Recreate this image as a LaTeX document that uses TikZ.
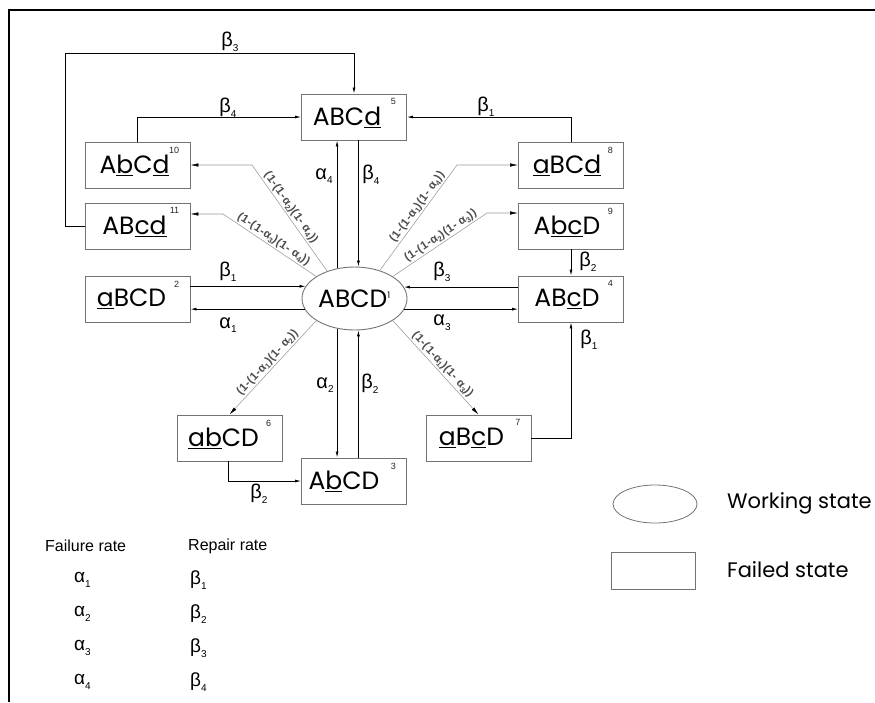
\documentclass[tikz,border=0pt]{standalone}
\usepackage{fontspec}
\setmainfont{Liberation Sans}
\newfontfamily\nodefont{Poppins}
\usetikzlibrary{arrows.meta,calc,shapes.geometric}
\newcommand{\sbs}[1]{\raisebox{-0.45ex}{\fontsize{10}{10}\selectfont #1}}
\newcommand{\psb}[1]{\raisebox{-0.35ex}{\fontsize{7.5}{7.5}\selectfont #1}}
\begin{document}
\begin{tikzpicture}[x=1pt,y=-1pt,
  state/.style={draw=black!55, line width=0.9pt, minimum width=105pt, minimum height=46pt,
    inner sep=0pt, font=\nodefont\fontsize{25}{28}\selectfont, fill=white},
  work/.style={ellipse, draw=black!55, line width=0.9pt, minimum width=105pt, minimum height=63pt,
    inner sep=0pt, font=\nodefont\fontsize{25}{28}\selectfont, fill=white},
  num/.style={font=\fontsize{9}{10}\selectfont, inner sep=0pt, anchor=north east, xshift=-11pt, yshift=-5pt, text=black!85},
  arr/.style={line width=0.8pt, -{Latex[length=6pt,width=3pt]}},
  prob/.style={draw=black!40, line width=0.55pt, -{Latex[length=8pt,width=3.5pt,color=black]}},
  plab/.style={font=\fontsize{11.5}{12}\selectfont\bfseries\addfontfeature{LetterSpace=4}, text=black!70, inner sep=1.5pt, sloped, above},
  glab/.style={font=\fontsize{20}{22}\selectfont, inner sep=0pt},
  tlab/.style={font=\fontsize{16}{18}\selectfont, inner sep=0pt, anchor=west},
  tgr/.style={font=\fontsize{19}{21}\selectfont, inner sep=0pt, anchor=west},
  leg/.style={font=\nodefont\fontsize{21}{24}\selectfont, inner sep=0pt, anchor=west},
]
\useasboundingbox (0,0) rectangle (875,702);
\draw[line width=1.2pt] (875,10) -- (9,10) -- (9,702);

% states
\node[work] (n1) at (354.5,298.5) {ABCD\textsuperscript{\fontsize{9}{9}\selectfont 1}};
\node[state, label={[num]north east:5}] (n5) at (354,117) {ABC\underline{d}\kern14pt};
\node[state, label={[num]north east:10}] (n10) at (137.5,165) {A\underline{b}C\underline{d}\kern6pt};
\node[state, label={[num]north east:11}] (n11) at (137.5,226) {AB\underline{cd}\kern6pt};
\node[state, label={[num]north east:2}] (n2) at (137.5,299) {\underline{a}BCD\kern12pt};
\node[state, label={[num]north east:8}] (n8) at (571,165) {\underline{a}BC\underline{d}\kern8pt};
\node[state, label={[num]north east:9}] (n9) at (571,226) {A\underline{bc}D\kern8pt};
\node[state, label={[num]north east:4}] (n4) at (571,299) {AB\underline{c}D\kern8pt};
\node[state, label={[num]north east:6}] (n6) at (229.5,438) {\underline{ab}CD\kern12pt};
\node[state, label={[num]north east:7}] (n7) at (478.5,438) {\underline{a}B\underline{c}D\kern14pt};
\node[state, label={[num]north east:3}] (n3) at (354,481) {A\underline{b}CD\kern20pt};

% helper coordinates
\coordinate (c3) at (65,53);
\coordinate (k10) at (252,165);
\coordinate (k11) at (223,214);
\coordinate (k8) at (457,165);
\coordinate (k9) at (487,213);
\coordinate (c63) at (228,481);

% repair loops
\draw[arr] (n11.west) -| (c3) -| (n5.north);
\draw[arr] (n10.north) |- (n5.west);
\draw[arr] (n8.north) |- (n5.east);
\draw[arr] (n9.south) -- (n4.north);
\draw[arr] (n7.east) -| (n4.south);
\draw[arr] (n6.south -| c63) |- (n3.west);

% central transitions
\draw[arr] (n2.east |- n1.166.8) -- (n1.166.8);
\draw[arr] (n1.192) -- (n2.east |- n1.192);
\draw[arr] (n4.west |- n1.13.2) -- (n1.13.2);
\draw[arr] (n1.-12) -- (n4.west |- n1.-12);
\draw[arr] (n1.120.5) -- (n5.south -| n1.120.5);
\draw[arr] (n5.south -| n1.83.6) -- (n1.83.6);
\draw[arr] (n1.-120.5) -- (n3.north -| n1.-120.5);
\draw[arr] (n3.north -| n1.-83.6) -- (n1.-83.6);

% simultaneous failures
\draw[prob] (n1.135) -- node[plab,pos=0.56]{(1-(1-α\psb{2})(1- α\psb{4}))} (k10) -- (n10.east);
\draw[prob] (n1.150) -- node[plab,pos=0.5]{(1-(1-α\psb{3})(1- α\psb{4}))} (k11) -- (n11.east |- k11);
\draw[prob] (n1.48) -- node[plab,pos=0.56]{(1-(1-α\psb{1})(1- α\psb{4}))} (k8) -- (n8.west);
\draw[prob] (n1.30) -- node[plab,pos=0.55]{(1-(1-α\psb{2})(1- α\psb{3}))} (k9) -- (n9.west |- k9);
\draw[prob] (n1.210) -- node[plab,pos=0.5]{(1-(1-α\psb{1})(1- α\psb{2}))} (n6.north);
\draw[prob] (n1.-30) -- node[plab,pos=0.52]{(1-(1-α\psb{1})(1- α\psb{3}))} (n7.north);

% rate labels
\node[glab] (lb3) at (230,42) {β\sbs{3}};
\node[glab] (lb4t) at (228,108) {β\sbs{4}};
\node[glab] (lb1t) at (486,107) {β\sbs{1}};
\node[glab] (la4) at (324,176) {α\sbs{4}};
\node[glab] (lb4v) at (371,175) {β\sbs{4}};
\node[glab] (lb1l) at (228,272) {β\sbs{1}};
\node[glab] (la1) at (228,325) {α\sbs{1}};
\node[glab] (lb3r) at (442,272) {β\sbs{3}};
\node[glab] (la3) at (442,323) {α\sbs{3}};
\node[glab] (la2) at (325,385) {α\sbs{2}};
\node[glab] (lb2v) at (370,384) {β\sbs{2}};
\node[glab] (lb2b) at (259,494) {β\sbs{2}};
\node[glab] (lb2r) at (588,262) {β\sbs{2}};
\node[glab] (lb1r) at (589,340) {β\sbs{1}};

% legend
\node[ellipse, draw=black!55, line width=0.8pt, minimum width=84pt, minimum height=38pt, inner sep=0pt] (lgE) at (655,504) {};
\node[draw=black!55, line width=0.8pt, minimum width=84pt, minimum height=37pt, inner sep=0pt] (lgB) at (653,570.5) {};
\node[leg] (lgEt) at (727,503) {Working state};
\node[leg] (lgBt) at (727,570) {Failed state};

% rate table
\node[tlab] (tf) at (45,546) {Failure rate};
\node[tlab] (tr) at (188,546) {Repair rate};
\node[tgr] (ta1) at (74,580) {α\sbs{1}};
\node[tgr] (ta2) at (74,614) {α\sbs{2}};
\node[tgr] (ta3) at (74,648) {α\sbs{3}};
\node[tgr] (ta4) at (74,682) {α\sbs{4}};
\node[tgr] (tb1) at (190,580) {β\sbs{1}};
\node[tgr] (tb2) at (190,614) {β\sbs{2}};
\node[tgr] (tb3) at (190,648) {β\sbs{3}};
\node[tgr] (tb4) at (190,682) {β\sbs{4}};
\end{tikzpicture}
\end{document}
